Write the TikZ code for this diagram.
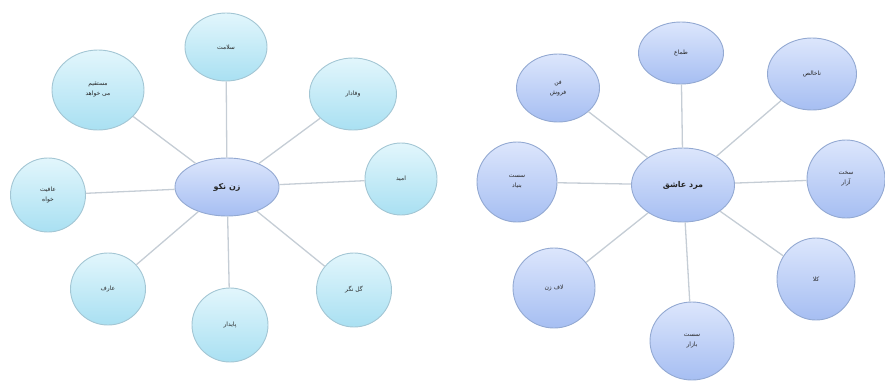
\documentclass[tikz,border=0pt]{standalone}
\usepackage{fontspec}
\newfontfamily\farsifont[Script=Arabic]{DejaVu Sans}
\TeXXeTstate=1
\usetikzlibrary{shapes.geometric}

\definecolor{linkgray}{HTML}{C5CDD5}
\definecolor{cyantop}{HTML}{E2F6FC}
\definecolor{cyanbot}{HTML}{A9E0F2}
\definecolor{cyanedge}{HTML}{A3C6D4}
\definecolor{bluetop}{HTML}{DCE6FC}
\definecolor{bluebot}{HTML}{A6BEF2}
\definecolor{blueedge}{HTML}{93A9D2}

\newcommand{\fatext}[1]{\beginR #1\endR}

\begin{document}
\begin{tikzpicture}[x=1pt,y=-1pt,
	bubble/.style={ellipse, inner sep=0pt, align=center, line width=0.9pt, text=black!85,
		font=\farsifont\fontsize{6}{10}\selectfont},
	cyanbub/.style={bubble, draw=cyanedge, top color=cyantop, bottom color=cyanbot},
	bluebub/.style={bubble, draw=blueedge, top color=bluetop, bottom color=bluebot},
	hub/.style={bubble, draw=blueedge, top color=bluetop, bottom color=bluebot,
		font=\farsifont\bfseries\fontsize{8}{10}\selectfont},
	link/.style={draw=linkgray, line width=1.3pt}]
	\useasboundingbox (0,0) rectangle (885,381);

	% left map
	\node[hub, minimum width=104, minimum height=58] (zan) at (227,187) {\fatext{زن نکو}};
	\node[cyanbub, minimum width=82, minimum height=68] (salamat) at (226,47) {\fatext{سلامت}};
	\node[cyanbub, minimum width=92, minimum height=80] (mostaghim) at (98,90) {\fatext{مستقیم}\\\fatext{می خواهد}};
	\node[cyanbub, minimum width=87, minimum height=72] (vafadar) at (353,94) {\fatext{وفادار}};
	\node[cyanbub, minimum width=72, minimum height=72] (omid) at (401,179) {\fatext{امید}};
	\node[cyanbub, minimum width=75, minimum height=74] (afiat) at (48,195) {\fatext{عافیت}\\\fatext{خواه}};
	\node[cyanbub, minimum width=75, minimum height=72] (aref) at (108,289) {\fatext{عارف}};
	\node[cyanbub, minimum width=76, minimum height=74] (paydar) at (230,325) {\fatext{پایدار}};
	\node[cyanbub, minimum width=75, minimum height=74] (golnegar) at (354,290) {\fatext{گل نگر}};

	\foreach \n in {salamat, mostaghim, vafadar, omid, afiat, aref, paydar, golnegar}
		\draw[link] (zan) -- (\n);

	% right map
	\node[hub, minimum width=103, minimum height=74] (mard) at (683,185) {\fatext{مرد عاشق}};
	\node[bluebub, minimum width=85, minimum height=62] (tammaa) at (681,53) {\fatext{طماع}};
	\node[bluebub, minimum width=83, minimum height=68] (fan) at (558,88) {\fatext{فن}\\\fatext{فروش}};
	\node[bluebub, minimum width=89, minimum height=72] (nakhales) at (812,74) {\fatext{ناخالص}};
	\node[bluebub, minimum width=78, minimum height=78] (sakht) at (846,179) {\fatext{سخت}\\\fatext{آزار}};
	\node[bluebub, minimum width=80, minimum height=80] (bonyad) at (517,182) {\fatext{سست}\\\fatext{بنیاد}};
	\node[bluebub, minimum width=82, minimum height=80] (lafzan) at (554,288) {\fatext{لاف زن}};
	\node[bluebub, minimum width=84, minimum height=78] (bazar) at (692,341) {\fatext{سست}\\\fatext{بازار}};
	\node[bluebub, minimum width=78, minimum height=82] (kala) at (816,279) {\fatext{کلا}};

	\foreach \n in {tammaa, fan, nakhales, sakht, bonyad, lafzan, bazar, kala}
		\draw[link] (mard) -- (\n);
\end{tikzpicture}
\end{document}
